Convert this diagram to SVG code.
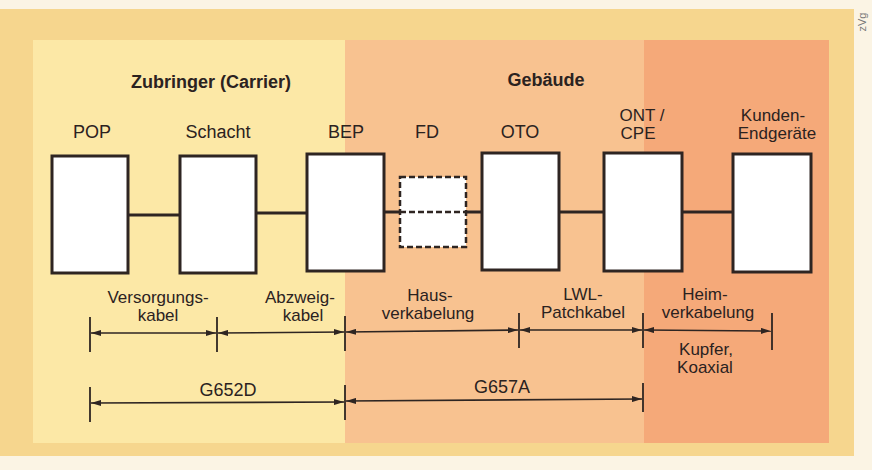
<svg xmlns="http://www.w3.org/2000/svg" width="872" height="470" viewBox="0 0 872 470">
<defs>
<style>
text{font-family:"Liberation Sans",Arial,sans-serif;fill:#2b221f;font-size:18px;text-anchor:middle}
.h{font-weight:bold}
.s{font-size:17px}
.box{fill:#ffffff;stroke:#2e2522;stroke-width:3}
.dash{fill:#ffffff;stroke:#2e2522;stroke-width:2.5;stroke-dasharray:6 3}
.wire{stroke:#2e2522;stroke-width:3;fill:none}
.dim{stroke:#2e2522;stroke-width:1.6;fill:none}
.tick{stroke:#2e2522;stroke-width:1.8}
</style>
<marker id="ah" viewBox="0 0 10 6" refX="10" refY="3" markerWidth="10" markerHeight="6" markerUnits="userSpaceOnUse" orient="auto-start-reverse">
<path d="M0,0 L10,3 L0,6 z" fill="#2e2522"/>
</marker>
</defs>
<rect x="0" y="0" width="872" height="470" fill="#fbf4e4"/>
<rect x="0" y="9" width="854" height="447" fill="#f6d68e"/>
<rect x="33" y="40" width="313" height="403" fill="#fce8a6"/>
<rect x="345" y="40" width="300" height="403" fill="#f8c290"/>
<rect x="644" y="40" width="185" height="403" fill="#f5a979"/>
<text x="866" y="22" transform="rotate(-90 866 22)" style="font-size:11px;fill:#777">zVg</text>

<text class="h" x="211" y="88">Zubringer (Carrier)</text>
<text class="h" x="546" y="86">Gebäude</text>

<g id="connectors">
<line class="wire" x1="128" y1="215" x2="180" y2="215"/>
<line class="wire" x1="256" y1="213" x2="307" y2="213"/>
<line class="wire" x1="384" y1="212" x2="400" y2="212"/>
<line class="wire" x1="466" y1="212" x2="482" y2="212"/>
<line class="wire" x1="559" y1="212" x2="604" y2="212"/>
<line class="wire" x1="682" y1="212" x2="733" y2="212"/>
</g>

<g id="POP"><rect class="box" x="52" y="156" width="76" height="117"/><text x="92" y="138">POP</text></g>
<g id="Schacht"><rect class="box" x="180" y="156" width="76" height="117"/><text x="218" y="138">Schacht</text></g>
<g id="BEP"><rect class="box" x="307" y="154" width="77" height="117"/><text x="346" y="138">BEP</text></g>
<g id="FD"><rect class="dash" x="400" y="177" width="66" height="70"/><line class="dash" x1="400" y1="212" x2="466" y2="212"/><text x="427" y="138">FD</text></g>
<g id="OTO"><rect class="box" x="482" y="153" width="77" height="117"/><text x="520" y="138">OTO</text></g>
<g id="ONT"><rect class="box" x="604" y="153" width="78" height="118"/><text class="s" x="642" y="121">ONT /</text><text class="s" x="638" y="139">CPE</text></g>
<g id="Kunden"><rect class="box" x="733" y="154" width="78" height="118"/><text class="s" x="773" y="121">Kunden-</text><text class="s" x="777" y="139">Endgeräte</text></g>

<g id="dimensions">
<line class="tick" x1="90" y1="317" x2="90" y2="352"/>
<line class="tick" x1="217" y1="317" x2="217" y2="352"/>
<line class="tick" x1="345" y1="316" x2="345" y2="351"/>
<line class="tick" x1="519" y1="313" x2="519" y2="348"/>
<line class="tick" x1="643" y1="313" x2="643" y2="348"/>
<line class="tick" x1="772" y1="313" x2="772" y2="350"/>
<line class="dim" x1="91" y1="333" x2="216" y2="333" marker-start="url(#ah)" marker-end="url(#ah)"/>
<line class="dim" x1="218" y1="333" x2="344" y2="332" marker-start="url(#ah)" marker-end="url(#ah)"/>
<line class="dim" x1="346" y1="332" x2="518" y2="330" marker-start="url(#ah)" marker-end="url(#ah)"/>
<line class="dim" x1="520" y1="330" x2="642" y2="330" marker-start="url(#ah)" marker-end="url(#ah)"/>
<line class="dim" x1="644" y1="330" x2="771" y2="331" marker-start="url(#ah)" marker-end="url(#ah)"/>
<text class="s" x="158" y="303">Versorgungs-</text><text class="s" x="158" y="321">kabel</text>
<text class="s" x="300" y="303">Abzweig-</text><text class="s" x="303" y="321">kabel</text>
<text class="s" x="430" y="301">Haus-</text><text class="s" x="428" y="319">verkabelung</text>
<text class="s" x="583" y="300">LWL-</text><text class="s" x="583" y="318">Patchkabel</text>
<text class="s" x="705" y="300">Heim-</text><text class="s" x="708" y="318">verkabelung</text>
<text class="s" x="706" y="355">Kupfer,</text><text class="s" x="705" y="373">Koaxial</text>

<line class="tick" x1="90" y1="387" x2="90" y2="422"/>
<line class="tick" x1="345" y1="385" x2="345" y2="420"/>
<line class="tick" x1="643" y1="383" x2="643" y2="412"/>
<line class="dim" x1="91" y1="403" x2="344" y2="402" marker-start="url(#ah)" marker-end="url(#ah)"/>
<line class="dim" x1="346" y1="401" x2="642" y2="399" marker-start="url(#ah)" marker-end="url(#ah)"/>
<text x="228" y="396">G652D</text>
<text x="502" y="393">G657A</text>
</g>
</svg>
